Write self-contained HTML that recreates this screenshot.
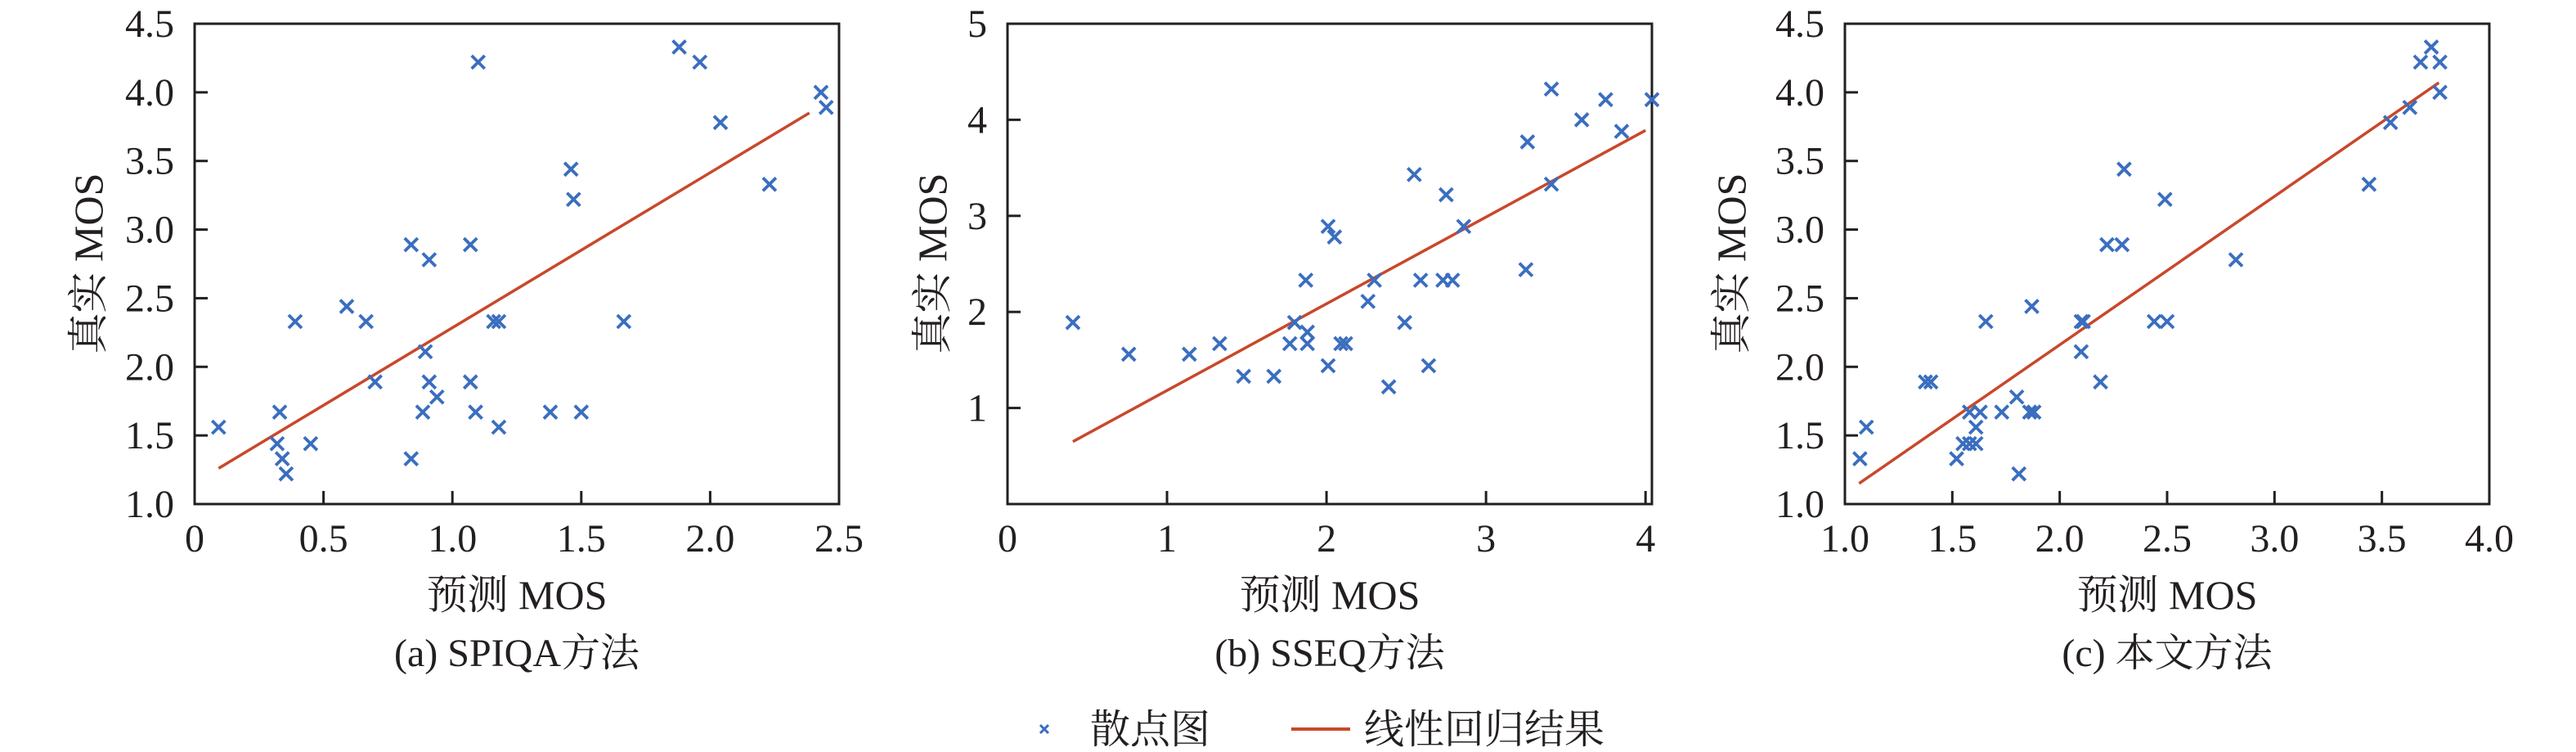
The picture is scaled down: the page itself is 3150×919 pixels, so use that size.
<!DOCTYPE html>
<html><head><meta charset="utf-8">
<style>
html,body{margin:0;padding:0;background:#fff;}
svg{display:block;}
svg text{font-family:"Liberation Serif","Noto Serif CJK SC",serif;fill:#231f20;}
</style></head>
<body>
<svg id="chart" xmlns="http://www.w3.org/2000/svg" width="3150" height="919" viewBox="0 0 3150 919" font-family="'Liberation Serif', 'Noto Serif CJK SC', serif"></svg>
<script>
// Panel (a) SPIQA
const aX = [0.093,0.33,0.32,0.34,0.355,0.39,0.45,0.59,0.665,0.70,0.84,0.84,0.91,0.895,0.885,0.91,0.94,1.07,1.07,1.09,1.10,1.16,1.18,1.18,1.38,1.46,1.47,1.50,1.665,1.88,1.96,2.04,2.23,2.43,2.45];
const aY = [1.56,1.67,1.44,1.33,1.22,2.33,1.44,2.44,2.33,1.89,2.89,1.33,2.78,2.11,1.67,1.89,1.78,2.89,1.89,1.67,4.22,2.33,2.33,1.56,1.67,3.44,3.22,1.67,2.33,4.33,4.22,3.78,3.33,4.0,3.89];
const aLineX = [0.093,2.385];
const aLineY = [1.26,3.85];
// Panel (b) SSEQ
const bX = [0.41,0.76,1.14,1.33,1.48,1.67,1.77,1.80,1.87,1.88,1.88,2.01,2.01,2.05,2.09,2.12,2.26,2.30,2.39,2.49,2.55,2.59,2.64,2.73,2.79,2.75,2.86,3.25,3.26,3.41,3.41,3.60,3.75,3.85,4.04];
const bY = [1.89,1.56,1.56,1.67,1.33,1.33,1.67,1.89,2.33,1.79,1.67,1.44,2.89,2.78,1.67,1.67,2.11,2.33,1.22,1.89,3.43,2.33,1.44,2.33,2.33,3.22,2.89,2.44,3.77,3.33,4.32,4.0,4.21,3.88,4.21];
const bLineX = [0.41,4.0];
const bLineY = [0.65,3.89];
// Panel (c) proposed
const cX = [1.07,1.10,1.375,1.40,1.52,1.55,1.58,1.58,1.61,1.61,1.63,1.656,1.73,1.80,1.81,1.86,1.88,1.87,2.10,2.10,2.11,2.19,2.22,2.29,2.30,2.44,2.50,2.49,2.82,3.44,3.54,3.63,3.68,3.73,3.77,3.77];
const cY = [1.33,1.56,1.89,1.89,1.33,1.44,1.67,1.44,1.56,1.44,1.67,2.33,1.67,1.78,1.22,1.67,1.67,2.44,2.33,2.11,2.33,1.89,2.89,2.89,3.44,2.33,2.33,3.22,2.78,3.33,3.78,3.89,4.22,4.33,4.22,4.0];
const cLineX = [1.066,3.765];
const cLineY = [1.15,4.07];
// ticks
const aXTicks = ["0","0.5","1.0","1.5","2.0","2.5"];
const aYTicks = ["1.0","1.5","2.0","2.5","3.0","3.5","4.0","4.5"];
const bXTicks = ["0","1","2","3","4"];
const bYTicks = ["1","2","3","4","5"];
const cXTicks = ["1.0","1.5","2.0","2.5","3.0","3.5","4.0"];
const cYTicks = aYTicks;

const NS = "http://www.w3.org/2000/svg";
const svg = document.getElementById('chart');
const FONT = "'Liberation Serif', 'Noto Serif CJK SC', serif";
function mk(tag, attrs, parent, txt){
  const e = document.createElementNS(NS, tag);
  for (const k in attrs) e.setAttribute(k, attrs[k]);
  if (tag === 'text') { e.setAttribute('font-family', FONT); e.setAttribute('fill', '#231f20'); }
  if (txt !== undefined) e.textContent = txt;
  (parent||svg).appendChild(e);
  return e;
}
const TOP = 29, BOT = 616, W = 788;
const BLUE = "#3a6ebf", RED = "#c8482b";

function panel(id, left, xmin, xmax, ymin, ymax, xs, ys, lx, ly, xt, yt, ylabX, caption){
  const g = mk('g', {});
  
  
  const sx = v => left + (v - xmin) / (xmax - xmin) * W;
  const sy = v => BOT - (v - ymin) / (ymax - ymin) * (BOT - TOP);
  const fr = mk('rect', {x:left, y:TOP, width:W, height:BOT-TOP, fill:'none', stroke:'#231f20', 'stroke-width':3}, g);
  
  
  xt.forEach(t => {
    const v = parseFloat(t), x = sx(v);
    if (x > left + 2 && x < left + W - 2) {
      const tk = mk('line', {x1:x, x2:x, y1:BOT, y2:BOT-16, stroke:'#231f20', 'stroke-width':3}, g);
      
      
    }
    const lb = mk('text', {x:x, y:674, 'font-size':48, 'text-anchor':'middle'}, g, t);
    
    
  });
  yt.forEach(t => {
    const v = parseFloat(t), y = sy(v);
    if (y > TOP + 2 && y < BOT - 2) {
      const tk = mk('line', {x1:left, x2:left+16, y1:y, y2:y, stroke:'#231f20', 'stroke-width':3}, g);
      
      
    }
    const lb = mk('text', {x:left-25, y:y+16, 'font-size':48, 'text-anchor':'end'}, g, t);
    
    
  });
  const ln = mk('line', {x1:sx(lx[0]), y1:sy(ly[0]), x2:sx(lx[1]), y2:sy(ly[1]), stroke:RED, 'stroke-width':3.5}, g);
  
  
  xs.forEach((xv, i) => {
    const cx = sx(xv), cy = sy(ys[i]), r = 8;
    const p = mk('path', {d:`M${cx-r},${cy-r}L${cx+r},${cy+r}M${cx-r},${cy+r}L${cx+r},${cy-r}`, stroke:BLUE, 'stroke-width':3.8, fill:'none'}, g);
    
    
  });
  const cx = left + W/2;
  const xl = mk('text', {x:cx, y:744, 'font-size':50, 'text-anchor':'middle'}, g, '预测 MOS');
  
  
  const yl = mk('text', {x:0, y:0, 'font-size':50, 'text-anchor':'middle', transform:`translate(${ylabX+22},322) rotate(-90)`}, g, '真实 MOS');
  
  
  const cp = mk('text', {x:cx, y:814, 'font-size':48, 'text-anchor':'middle'}, g, caption);
  
  
}

panel('a', 238, 0, 2.5, 1.0, 4.5, aX, aY, aLineX, aLineY, aXTicks, aYTicks, 103, '(a) SPIQA方法');
panel('b', 1232, 0, 4.04, 0, 5, bX, bY, bLineX, bLineY, bXTicks, bYTicks, 1135, '(b) SSEQ方法');
panel('c', 2256, 1.0, 4.0, 1.0, 4.5, cX, cY, cLineX, cLineY, cXTicks, cYTicks, 2112, '(c) 本文方法');

const lg = mk('g', {});


const m = mk('path', {d:'M1272,886L1282,896M1272,896L1282,886', stroke:BLUE, 'stroke-width':3, fill:'none'}, lg);


const t1 = mk('text', {x:1333, y:908, 'font-size':49}, lg, '散点图');


const l2 = mk('line', {x1:1579, x2:1651, y1:891, y2:891, stroke:RED, 'stroke-width':4}, lg);


const t2 = mk('text', {x:1668, y:908, 'font-size':49}, lg, '线性回归结果');


</script>
</body></html>
